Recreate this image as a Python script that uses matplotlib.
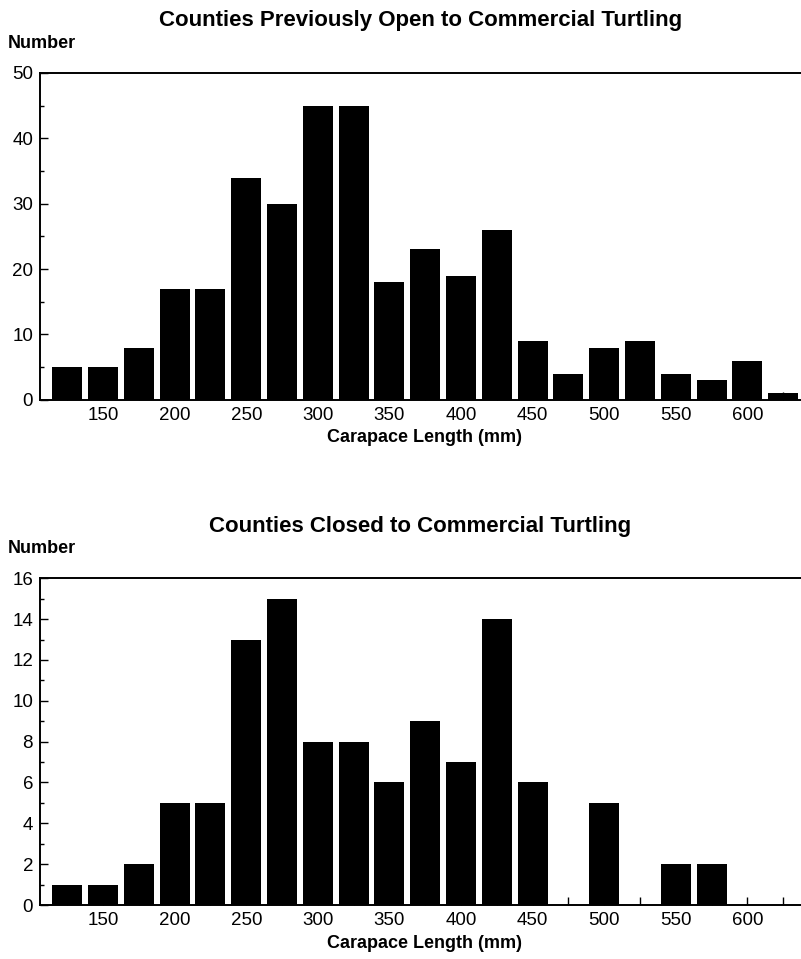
import matplotlib.pyplot as plt
from matplotlib.ticker import MultipleLocator

plt.rcParams['font.family'] = ['Liberation Sans', 'DejaVu Sans']

lengths = [125, 150, 175, 200, 225, 250, 275, 300, 325, 350, 375,
           400, 425, 450, 475, 500, 525, 550, 575, 600, 625]
open_counts = [5, 5, 8, 17, 17, 34, 30, 45, 45, 18, 23,
               19, 26, 9, 4, 8, 9, 4, 3, 6, 1]
closed_counts = [1, 1, 2, 5, 5, 13, 15, 8, 8, 6, 9,
                 7, 14, 6, 0, 5, 0, 2, 2, 0, 0]
tick_labels = [150, 200, 250, 300, 350, 400, 450, 500, 550, 600]

fig = plt.figure(figsize=(8.01, 9.59), dpi=100)


def draw(ax, counts, ymax, ymajor, title, title_y):
    ax.bar(lengths, counts, width=21, color='black', zorder=1)
    ax.set_xlim(106, 643)
    ax.set_ylim(0, ymax)
    ax.set_xticks(tick_labels)
    ax.xaxis.set_minor_locator(MultipleLocator(25))
    ax.yaxis.set_major_locator(MultipleLocator(ymajor))
    ax.yaxis.set_minor_locator(MultipleLocator(ymajor / 2))
    ax.tick_params(axis='both', which='major', direction='in', length=6,
                   width=1, labelsize=13.5, pad=5)
    ax.tick_params(axis='both', which='minor', direction='in', length=3, width=1)
    ax.tick_params(axis='x', which='both', length=6, pad=5)
    ax.spines['right'].set_visible(False)
    for s in ['left', 'bottom', 'top']:
        ax.spines[s].set_linewidth(1.4)
    ax.set_xlabel('Carapace Length (mm)', fontsize=13, fontweight='bold',
                  labelpad=4)
    pos = ax.get_position()
    fig.text(0.525, title_y, title, ha='center', va='center',
             fontsize=16, fontweight='bold')
    fig.text(0.01, pos.y1 + 0.031, 'Number', ha='left', va='center',
             fontsize=13, fontweight='bold')


ax1 = fig.add_axes([0.05, 0.583, 0.96, 0.341])
draw(ax1, open_counts, 50, 10,
     'Counties Previously Open to Commercial Turtling', 0.979)

ax2 = fig.add_axes([0.05, 0.0563, 0.96, 0.3407])
draw(ax2, closed_counts, 16, 2,
     'Counties Closed to Commercial Turtling', 0.451)

fig.savefig('out.png', dpi=100)
